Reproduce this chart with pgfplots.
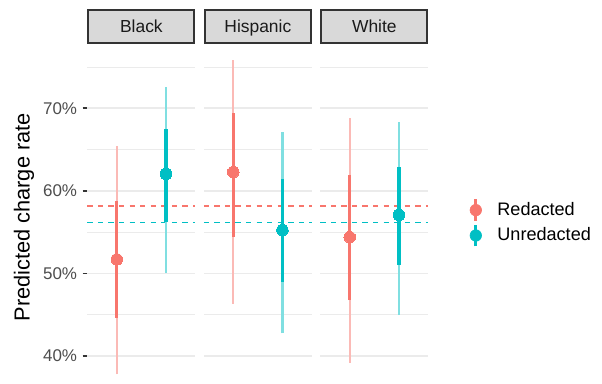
\documentclass[border=0pt]{standalone}
\usepackage{pgfplots}
\pgfplotsset{compat=1.18}
\usepgfplotslibrary{groupplots}
\usepackage{fontspec}
\setmainfont{Liberation Sans}

\definecolor{redact}{HTML}{F8766D}
\definecolor{unredact}{HTML}{00BFC4}
\definecolor{gridgray}{HTML}{EBEBEB}
\definecolor{gray20}{HTML}{333333}
\definecolor{gray30}{HTML}{4D4D4D}
\definecolor{gray10}{HTML}{1A1A1A}
\definecolor{stripfill}{HTML}{D9D9D9}

\pgfplotsset{
  facet/.style={
    width=67.6pt, height=216.1pt, scale only axis,
    xmin=0.4, xmax=2.6, ymin=35.85, ymax=77.75,
    axis line style={draw=none},
    xtick=\empty,
    ytick={40,50,60,70}, minor ytick={45,55,65,75},
    ytick pos=left,
    ymajorgrids, yminorgrids,
    major grid style={gridgray, line width=1.07pt},
    minor grid style={gridgray, line width=0.53pt},
    minor tick length=0pt,
    tick align=outside,
    clip=false,
  },
  ref/.style={line width=0.7pt, dash pattern=on 3.3pt off 3.3pt},
  outer/.style={line width=1.44pt},
  inner/.style={line width=2.06pt},
  est/.style={only marks, mark=*, mark size=3.6pt, mark options={line width=0pt}},
}

\begin{document}
\begin{tikzpicture}
\begin{groupplot}[
  group style={group size=3 by 1, horizontal sep=5.2pt},
  facet,
]
% ---- Black ----
\nextgroupplot[
  yticklabels={40\%,50\%,60\%,70\%},
  major tick length=2.9pt,
  major tick style={gray20, line width=1.07pt},
  yticklabel style={font=\fontsize{10.6}{12}\selectfont, text=gray30, inner sep=0pt, xshift=-3.3pt},
  ylabel={Predicted charge rate},
  every axis y label/.style={at={(axis description cs:-0.586,0.5)}, rotate=90, anchor=center,
    font=\fontsize{13.6}{16}\selectfont, text=black},
]
\coordinate (s1) at (rel axis cs:0,1);
\addplot[ref, redact]   coordinates {(0.4,58.16) (2.6,58.16)};
\addplot[ref, unredact] coordinates {(0.4,56.14) (2.6,56.14)};
\addplot[outer, redact!50!white]   coordinates {(1,37.76) (1,65.47)};
\addplot[inner, redact]            coordinates {(1,44.60) (1,58.76)};
\addplot[est, redact]              coordinates {(1,51.70)};
\addplot[outer, unredact!50!white] coordinates {(2,50.07) (2,72.55)};
\addplot[inner, unredact]          coordinates {(2,56.20) (2,67.45)};
\addplot[est, unredact]            coordinates {(2,62.04)};

% ---- Hispanic ----
\nextgroupplot[yticklabels={}, major tick length=0pt, major tick style={draw=none}]
\coordinate (s2) at (rel axis cs:0,1);
\addplot[ref, redact]   coordinates {(0.4,58.16) (2.6,58.16)};
\addplot[ref, unredact] coordinates {(0.4,56.14) (2.6,56.14)};
\addplot[outer, redact!50!white]   coordinates {(1,46.30) (1,75.85)};
\addplot[inner, redact]            coordinates {(1,54.44) (1,69.47)};
\addplot[est, redact]              coordinates {(1,62.28)};
\addplot[outer, unredact!50!white] coordinates {(2,42.73) (2,67.13)};
\addplot[inner, unredact]          coordinates {(2,48.98) (2,61.40)};
\addplot[est, unredact]            coordinates {(2,55.25)};

% ---- White ----
\nextgroupplot[yticklabels={}, major tick length=0pt, major tick style={draw=none},
  legend style={at={(axis description cs:1.379,0.484)}, anchor=west,
    draw=none, fill=none, inner sep=0pt, row sep=0.3pt,
    font=\fontsize{11.3}{13}\selectfont,
    nodes={inner sep=0pt}},
  legend cell align=left,
]
\coordinate (s3) at (rel axis cs:0,1);
\addplot[ref, redact, forget plot]   coordinates {(0.4,58.16) (2.6,58.16)};
\addplot[ref, unredact, forget plot] coordinates {(0.4,56.14) (2.6,56.14)};
\addplot[outer, redact!50!white, forget plot]   coordinates {(1,39.20) (1,68.82)};
\addplot[inner, redact, forget plot]            coordinates {(1,46.76) (1,61.90)};
\addplot[est, redact, forget plot]              coordinates {(1,54.40)};
\addplot[outer, unredact!50!white, forget plot] coordinates {(2,44.95) (2,68.38)};
\addplot[inner, unredact, forget plot]          coordinates {(2,51.00) (2,62.92)};
\addplot[est, unredact, forget plot]            coordinates {(2,57.07)};
\addlegendimage{redact, legend image code/.code={
  \draw[line width=2.06pt] (0pt,-6.75pt) -- (0pt,6.75pt);
  \fill (0pt,0pt) circle (3.6pt);
  \path (13.3pt,0pt);}}
\addlegendentry{Redacted}
\addlegendimage{unredact, legend image code/.code={
  \draw[line width=2.06pt] (0pt,-6.75pt) -- (0pt,6.75pt);
  \fill (0pt,0pt) circle (3.6pt);
  \path (13.3pt,0pt);}}
\addlegendentry{Unredacted}
\end{groupplot}

% facet strips
\foreach \p/\name in {1/Black,2/Hispanic,3/White}{
  \draw[fill=stripfill, draw=gray20, line width=1.25pt]
    (s\p) ++(0.6pt,0.7pt) rectangle ++(66.4pt,20.75pt);
  \path (s\p) ++(33.8pt,7.3pt)
    node[anchor=base, inner sep=0pt, font=\fontsize{10.9}{13}\selectfont, text=gray10] {\name};
}

\pgfresetboundingbox
\path[use as bounding box] (s1) ++(-54.56pt,27.75pt) rectangle ++(376.25pt,-239.375pt);
\end{tikzpicture}
\end{document}
